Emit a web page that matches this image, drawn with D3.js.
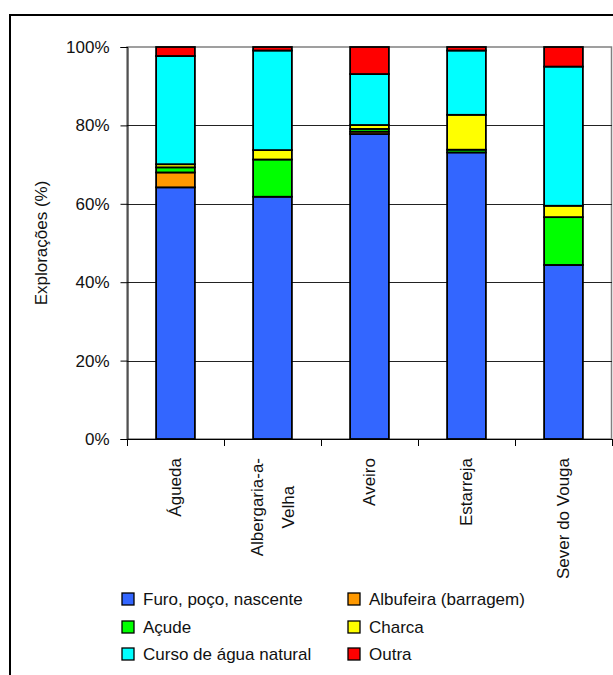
<!DOCTYPE html>
<html>
<head>
<meta charset="utf-8">
<script src="https://cdn.jsdelivr.net/npm/d3@7"></script>
<style>
  html, body { margin: 0; padding: 0; background: #fff; }
  svg { display: block; font-family: "Liberation Sans", Arial, sans-serif; }
</style>
</head>
<body>
<svg id="chart" width="613" height="675"></svg>
<script>
// Water source of farms by municipality (% of farms)
const municipalities = [["Águeda"], ["Albergaria-a-", "Velha"], ["Aveiro"], ["Estarreja"], ["Sever do Vouga"]];
const sources = ["Furo, poço, nascente", "Albufeira (barragem)", "Açude", "Charca", "Curso de água natural", "Outra"];
const sourceColors = ["#3366FF", "#FF9900", "#00FF00", "#FFFF00", "#00FFFF", "#FF0000"];

const furo      = [64.2, 61.8, 77.8, 73.1, 44.4];
const albufeira = [3.8, 0.0, 0.6, 0.0, 0.0];
const acude     = [1.3, 9.5, 0.7, 0.7, 12.2];
const charca    = [0.8, 2.4, 1.0, 8.9, 2.9];
const curso     = [27.6, 25.4, 13.0, 16.4, 35.5];
const outra     = [2.3, 0.9, 6.9, 0.9, 5.0];

const yTicks = [0, 20, 40, 60, 80, 100];
const yTitle = "Explorações (%)";

const seriesValues = [furo, albufeira, acude, charca, curso, outra];
const rows = municipalities.map((m, i) => {
  const r = { key: m.join("") };
  sources.forEach((s, j) => { r[s] = seriesValues[j][i]; });
  return r;
});

const textColor = "#111";
const svg = d3.select("#chart");

// outer frame (top and left edges)
svg.append("line").attr("x1", 9).attr("x2", 613).attr("y1", 15).attr("y2", 15)
  .attr("stroke", "#000").attr("stroke-width", 2);
svg.append("line").attr("x1", 10).attr("x2", 10).attr("y1", 14).attr("y2", 675)
  .attr("stroke", "#000").attr("stroke-width", 2);

const plot = { left: 127, right: 612, top: 47, bottom: 439 };

const x = d3.scaleBand().domain(rows.map(r => r.key))
  .range([plot.left, plot.right]).paddingInner(0.6).paddingOuter(0.3);
const xOuter = d3.scaleBand().domain(rows.map(r => r.key)).range([plot.left, plot.right]);
const y = d3.scaleLinear().domain([0, 100]).range([plot.bottom, plot.top]);

// plot area border (grey)
svg.append("rect").attr("x", plot.left).attr("y", plot.top)
  .attr("width", plot.right - plot.left - 0.5).attr("height", plot.bottom - plot.top)
  .attr("fill", "none").attr("stroke", "#808080").attr("stroke-width", 1.5);

// gridlines
svg.append("g").selectAll("line").data(yTicks.filter(t => t > 0 && t < 100)).join("line")
  .attr("x1", plot.left).attr("x2", plot.right)
  .attr("y1", d => Math.round(y(d)) + 0.5).attr("y2", d => Math.round(y(d)) + 0.5)
  .attr("stroke", "#222").attr("stroke-width", 1);

// stacked bars
const stack = d3.stack().keys(sources)(rows);
svg.append("g").selectAll("g").data(stack).join("g")
  .attr("fill", (d, i) => sourceColors[i])
  .selectAll("rect").data(d => d.filter(s => s[1] - s[0] > 0)).join("rect")
  .attr("x", d => x(d.data.key))
  .attr("width", x.bandwidth())
  .attr("y", d => y(d[1]))
  .attr("height", d => y(d[0]) - y(d[1]))
  .attr("stroke", "#000").attr("stroke-width", 1.8);

// y axis
const yAxis = svg.append("g").attr("transform", `translate(${plot.left + 0.5},0)`)
  .call(d3.axisLeft(y).tickValues(yTicks).tickFormat(d => d + "%").tickSize(7).tickPadding(11));
yAxis.select(".domain").attr("stroke", "#000");
yAxis.selectAll(".tick line").attr("stroke", "#000");
yAxis.selectAll("text").attr("font-size", 17).attr("fill", textColor)
  .attr("font-family", "Liberation Sans, Arial, sans-serif");

// x axis line with boundary ticks
svg.append("line").attr("x1", plot.left).attr("x2", plot.right)
  .attr("y1", plot.bottom + 0.5).attr("y2", plot.bottom + 0.5).attr("stroke", "#000");
const bounds = rows.map(r => xOuter(r.key)).concat([plot.right]);
svg.append("g").selectAll("line").data(bounds).join("line")
  .attr("x1", d => Math.round(d) + 0.5).attr("x2", d => Math.round(d) + 0.5)
  .attr("y1", plot.bottom).attr("y2", plot.bottom + 7).attr("stroke", "#000");

// rotated category labels
const labelTop = 458;
const lineGap = 31;
municipalities.forEach((lines, i) => {
  const cx = xOuter(rows[i].key) + xOuter.bandwidth() / 2;
  const g = svg.append("g");
  const texts = lines.map((ln, k) => {
    const off = (k - (lines.length - 1) / 2) * lineGap;
    return g.append("text")
      .attr("font-size", 17).attr("fill", textColor)
      .attr("text-anchor", lines.length > 1 ? "middle" : "end")
      .attr("dy", "0.35em")
      .text(ln)
      .attr("data-off", off);
  });
  const maxW = d3.max(texts, t => t.node().getComputedTextLength());
  texts.forEach(t => {
    const off = +t.attr("data-off");
    const cy = lines.length > 1 ? labelTop + maxW / 2 : labelTop;
    t.attr("transform", `translate(${cx + off},${cy}) rotate(-90)`);
  });
});

// y axis title
svg.append("text")
  .attr("transform", `translate(41,${(plot.top + plot.bottom) / 2}) rotate(-90)`)
  .attr("text-anchor", "middle").attr("dy", "0.35em")
  .attr("font-size", 17).attr("fill", textColor)
  .text(yTitle);

// legend (two columns)
const legendCols = [122, 348];
const legendRows = [599, 627, 654];
const legend = svg.append("g").selectAll("g").data(sources).join("g")
  .attr("transform", (d, i) => `translate(${legendCols[i % 2]},${legendRows[Math.floor(i / 2)]})`);
legend.append("rect").attr("x", 0).attr("y", -6).attr("width", 12).attr("height", 12)
  .attr("fill", (d, i) => sourceColors[i]).attr("stroke", "#000").attr("stroke-width", 1.3);
legend.append("text").attr("x", 21).attr("dy", "0.35em")
  .attr("font-size", 17).attr("fill", textColor).text(d => d);
</script>
</body>
</html>
